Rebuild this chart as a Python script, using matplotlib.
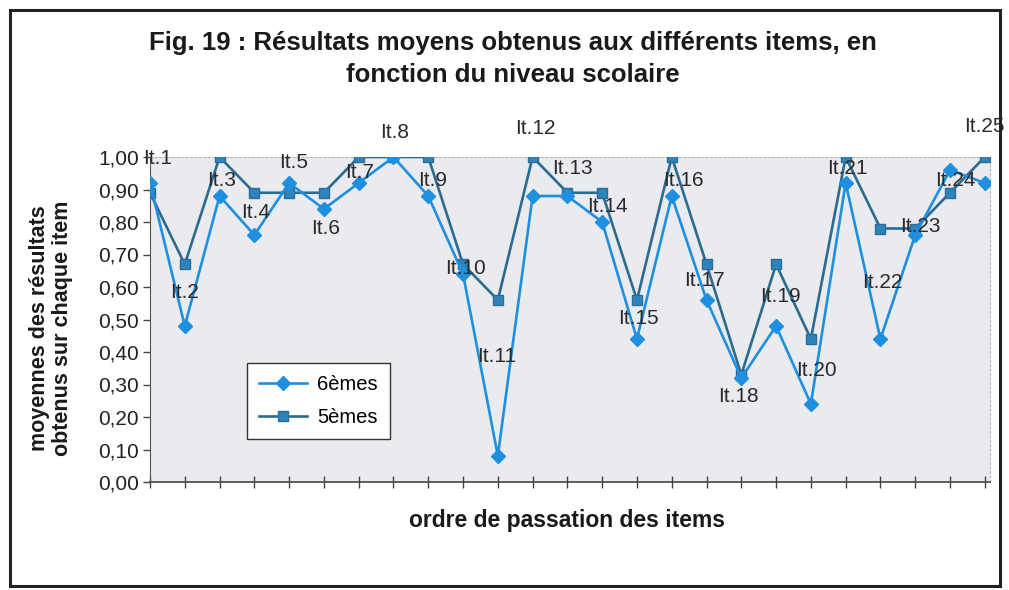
import matplotlib
matplotlib.use('Agg')
import matplotlib.pyplot as plt
from matplotlib.patches import Rectangle
from matplotlib.ticker import FuncFormatter

# moyennes par item
items = ['It.%d' % i for i in range(1, 26)]
sixiemes = [0.92, 0.48, 0.88, 0.76, 0.92, 0.84, 0.92, 1.00, 0.88, 0.64,
            0.08, 0.88, 0.88, 0.80, 0.44, 0.88, 0.56, 0.32, 0.48, 0.24,
            0.92, 0.44, 0.76, 0.96, 0.92]
cinquiemes = [0.89, 0.67, 1.00, 0.89, 0.89, 0.89, 1.00, 1.00, 1.00, 0.67,
              0.56, 1.00, 0.89, 0.89, 0.56, 1.00, 0.67, 0.33, 0.67, 0.44,
              1.00, 0.78, 0.78, 0.89, 1.00]

# decalage des etiquettes (pixels) par rapport au point des 6emes
lab_dx = [8, 0, 2, 1, 4, 2, 1, 1, 4, 2, -1, 3, 5, 5, 1, 12, -2, -3, 4, 6, 2, 2, 5, 5, 0]
lab_dy = [25, 34, 16, 23, 20, -19, 11, 24, 16, 6, 99, 68, 28, 15, 21, 16, 20, -18, 30, 34, 15, 57, 8, -11, 56]

plt.rcParams['font.family'] = ['Liberation Sans', 'DejaVu Sans']

fig = plt.figure(figsize=(10.09, 5.90), dpi=100)
fig.patch.set_facecolor('white')

# cadre autour du graphique
fig.patches.append(Rectangle((10 / 1009, 4 / 590), 990 / 1009, 576 / 590,
                             transform=fig.transFigure, fill=False,
                             edgecolor='#222222', lw=2.2))

ax = fig.add_axes([150 / 1009, 108 / 590, 840 / 1009, 325 / 590])
ax.set_facecolor('#e9ebee')

x = list(range(1, 26))
c6 = '#1f8fe0'
c5 = '#2c6a90'
ax.plot(x, sixiemes, color=c6, lw=1.9, marker='D', ms=7.5, mfc=c6, mec=c6,
        label='6èmes', zorder=4)
ax.plot(x, cinquiemes, color=c5, lw=1.9, marker='s', ms=7.5, mfc='#2f82ba',
        mec='#2a6d98', label='5èmes', zorder=3)

for i in range(25):
    ax.annotate(items[i], (x[i], sixiemes[i]), xytext=(lab_dx[i], lab_dy[i]),
                textcoords='offset pixels', ha='center', va='center',
                fontsize=15, color='#2a2a2a', zorder=5, annotation_clip=False)

ax.set_xlim(1, 25.15)
ax.set_ylim(0, 1.0)
ax.set_yticks([i / 10 for i in range(11)])
ax.yaxis.set_major_formatter(FuncFormatter(lambda v, p: ('%.2f' % v).replace('.', ',')))
ax.set_xticks(x)
ax.set_xticklabels([])
ax.tick_params(axis='x', direction='inout', length=9, width=1, color='#444444')
ax.tick_params(axis='y', direction='out', length=5, width=1, color='#444444',
               labelsize=15, labelcolor='#222222', pad=3)

for s in ['top', 'right']:
    ax.spines[s].set_color('#b8b8b8')
    ax.spines[s].set_linewidth(0.8)
    ax.spines[s].set_linestyle((0, (2, 2)))
ax.spines['left'].set_color('#555555')
ax.spines['bottom'].set_color('#444444')
ax.spines['bottom'].set_linewidth(1.2)

fig.text(51 / 1009, 1 - 328 / 590, 'moyennes des résultats\nobtenus sur chaque item',
         rotation=90, ha='center', va='center', fontsize=15.5, fontweight='bold',
         linespacing=1.15, color='#1a1a1a')
fig.text(567 / 1009, 1 - 520 / 590, 'ordre de passation des items',
         ha='center', va='center', fontsize=16.5, fontweight='bold', color='#1a1a1a')

fig.text(0.508, 1 - 59 / 590, 'Fig. 19 : Résultats moyens obtenus aux différents items, en\nfonction du niveau scolaire',
         ha='center', va='center', fontsize=18.5, fontweight='bold', linespacing=1.45,
         color='#1a1a1a')

leg = ax.legend(loc='upper left', bbox_to_anchor=(97 / 840, 119 / 325),
                frameon=True, fancybox=False, edgecolor='#333333', framealpha=1,
                fontsize=14.5, handlelength=2.4, borderpad=0.6, labelspacing=0.7,
                handletextpad=0.5, borderaxespad=0)
leg.get_frame().set_linewidth(1.0)

fig.savefig('out.png', dpi=100)
